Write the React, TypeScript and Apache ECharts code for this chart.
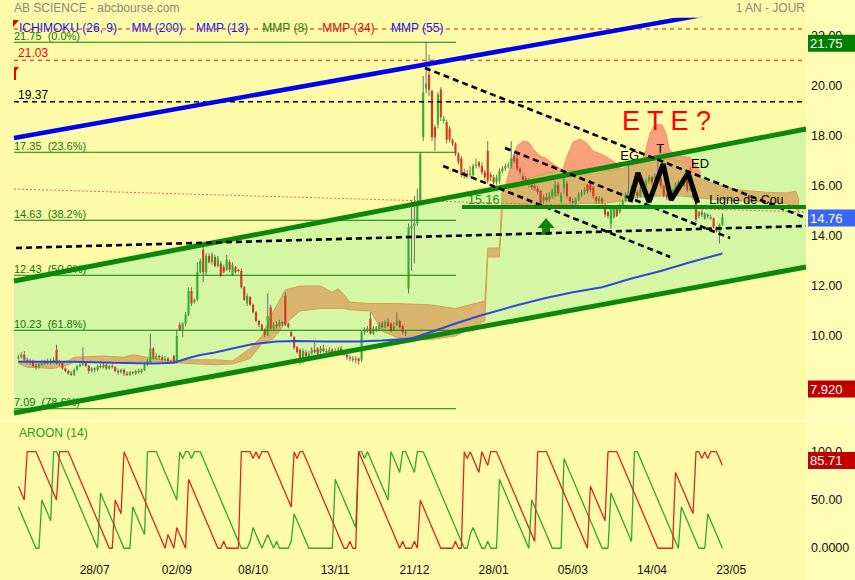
import React, { useEffect, useRef } from "react";
import * as echarts from "echarts";

const FONT = "'Liberation Sans', Arial, Helvetica, sans-serif";
const SLOT_MIN = -0.5;
const SLOT_MAX = 269.5;

// x-axis tick labels and the bar slot they sit on
const TICK_LABELS = ["28/07", "02/09", "08/10", "13/11", "21/12", "28/01", "05/03", "14/04", "23/05"];
const TICK_SLOTS = [27, 55, 81, 109, 136, 163, 190, 217, 244];

// daily bars [open, high, low, close]; bar k sits on slot k+1
const OHLC = [
  [9.10,9.25,9.05,9.15],[9.15,9.35,9.10,9.25],[9.25,9.40,9.00,9.05],[9.05,9.15,8.90,8.95],[8.95,9.10,8.85,9.00],
  [9.00,9.05,8.75,8.80],[8.80,8.90,8.65,8.75],[8.75,8.95,8.70,8.85],[8.85,9.05,8.80,8.95],[8.95,9.05,8.85,8.90],
  [8.90,9.10,8.85,9.00],[9.00,9.10,8.85,8.95],[8.95,9.15,8.90,9.05],[9.45,9.65,8.85,8.90],[8.90,9.05,8.80,8.95],
  [8.95,9.00,8.65,8.70],[8.70,8.75,8.55,8.60],[8.60,8.65,8.45,8.50],[8.50,8.60,8.40,8.45],[8.45,8.70,8.40,8.65],
  [8.65,8.85,8.60,8.80],[8.80,8.95,8.75,8.85],[8.85,9.55,8.80,8.95],[8.95,9.00,8.75,8.80],[8.80,8.85,8.50,8.60],
  [8.60,8.75,8.55,8.70],[8.70,8.75,8.55,8.65],[8.65,8.85,8.60,8.80],[8.80,8.90,8.70,8.75],[8.75,8.95,8.70,8.85],
  [8.85,8.90,8.65,8.70],[8.70,8.85,8.65,8.80],[8.80,8.90,8.70,8.75],[8.75,8.80,8.55,8.60],[8.60,8.70,8.45,8.55],
  [8.55,8.70,8.50,8.65],[8.65,8.70,8.40,8.50],[8.50,8.60,8.40,8.45],[8.45,8.60,8.40,8.55],[8.55,8.60,8.45,8.50],
  [8.50,8.65,8.45,8.60],[8.60,8.70,8.50,8.55],[8.55,8.70,8.50,8.65],[8.65,8.95,8.60,8.85],[8.85,9.10,8.80,9.00],
  [8.95,10.10,8.90,9.50],[9.50,9.55,9.05,9.10],[9.10,9.30,9.05,9.20],[9.20,9.25,9.05,9.15],[9.15,9.25,9.00,9.05],
  [9.05,9.20,9.00,9.10],[9.10,9.15,8.95,9.00],[9.00,9.05,8.90,8.95],[9.20,9.25,8.90,8.95],[8.95,10.25,8.90,10.00],
  [10.45,10.55,10.20,10.25],[10.25,10.55,9.95,10.50],[10.50,10.95,10.40,10.85],[10.85,11.95,10.80,11.80],[11.80,11.95,11.20,11.30],
  [11.35,11.50,11.30,11.45],[11.45,12.95,11.40,12.55],[12.55,13.10,12.50,13.00],[13.45,13.65,12.15,12.55],[12.55,13.30,12.45,13.20],
  [13.20,13.30,12.90,12.95],[12.95,13.35,12.85,13.25],[13.15,13.25,12.75,12.80],[12.80,13.20,12.75,13.10],[12.90,13.00,12.35,12.40],
  [12.75,12.85,12.50,12.55],[12.65,13.25,12.60,13.05],[12.95,13.05,12.55,12.65],[12.45,12.95,12.40,12.85],[12.75,12.80,12.50,12.55],
  [12.65,12.70,12.55,12.60],[12.60,12.70,11.90,11.95],[11.95,12.00,11.40,11.45],[11.30,11.70,11.20,11.60],[11.55,11.60,11.20,11.25],
  [11.25,11.30,10.90,10.95],[10.95,11.00,10.55,10.60],[10.60,10.65,10.35,10.45],[10.45,10.50,10.20,10.25],[10.25,10.30,9.95,10.05],
  [10.05,11.70,10.00,10.80],[11.15,11.25,10.25,10.30],[10.30,10.55,10.25,10.45],[10.45,10.60,10.30,10.40],[10.40,10.65,10.35,10.55],
  [10.55,10.60,10.40,10.50],[11.60,11.75,10.40,10.45],[10.50,10.55,10.30,10.35],[10.15,10.20,9.95,10.00],[9.95,10.00,9.45,9.55],
  [9.55,9.60,9.30,9.35],[9.45,9.50,8.85,8.95],[9.05,9.50,8.90,9.40],[9.35,9.45,9.10,9.20],[9.20,9.40,9.05,9.30],
  [9.30,9.55,9.25,9.45],[9.45,9.75,9.30,9.35],[9.50,9.55,9.25,9.30],[9.35,9.60,9.30,9.50],[9.50,9.65,9.35,9.40],
  [9.40,9.50,9.25,9.35],[9.35,9.55,9.30,9.45],[9.45,9.50,9.30,9.35],[9.35,9.50,9.30,9.40],[9.40,9.55,9.35,9.45],
  [9.50,9.60,9.25,9.30],[9.35,9.45,9.20,9.25],[9.25,9.30,9.05,9.15],[9.15,9.25,9.00,9.10],[9.10,9.20,8.95,9.05],
  [9.05,9.20,8.90,9.10],[9.10,9.15,8.85,9.00],[9.05,10.20,8.95,10.15],[10.15,10.35,10.05,10.25],[10.25,10.40,10.15,10.30],
  [10.70,10.95,10.05,10.10],[10.10,10.40,10.05,10.30],[10.30,10.40,10.15,10.25],[10.25,10.55,10.20,10.45],[10.50,10.60,10.30,10.35],
  [10.35,10.65,10.30,10.55],[10.55,10.70,10.35,10.40],[10.50,10.55,10.15,10.20],[10.25,10.55,10.20,10.40],[10.45,10.95,10.40,10.60],
  [10.60,10.65,10.30,10.35],[10.40,10.45,10.05,10.15],[10.15,10.20,10.00,10.10],[11.90,14.50,11.70,14.35],[14.30,15.45,12.60,14.40],
  [14.40,15.60,12.90,14.50],[14.50,15.90,14.40,15.20],[15.35,17.35,15.20,17.30],[17.95,20.40,17.80,19.75],[19.90,21.75,19.70,20.10],
  [20.45,21.25,19.60,19.85],[19.80,19.85,17.80,17.95],[18.35,18.45,17.40,17.95],[18.45,19.75,18.30,19.65],[19.85,19.95,18.60,18.75],
  [18.60,18.80,18.50,18.70],[18.55,18.65,17.70,17.85],[18.30,18.40,17.75,17.85],[17.85,17.90,17.60,17.70],[17.70,17.75,17.20,17.30],
  [17.30,17.35,16.85,16.95],[17.10,17.20,16.35,16.45],[16.55,16.70,16.30,16.45],[16.50,16.65,16.30,16.45],[16.45,16.80,16.35,16.50],
  [16.45,16.90,16.40,16.80],[16.80,17.10,16.70,16.85],[16.95,17.00,16.70,16.80],[16.80,16.95,16.45,16.55],[16.55,16.65,16.25,16.35],
  [17.40,17.80,16.10,16.20],[16.45,16.55,16.20,16.35],[16.35,16.45,16.05,16.15],[16.15,16.45,16.05,16.35],[16.20,16.70,16.10,16.60],
  [16.60,16.80,16.50,16.70],[16.70,16.90,16.60,16.80],[16.80,16.95,16.70,16.85],[16.80,17.80,16.70,17.10],[17.20,17.30,16.90,17.00],
  [17.10,17.30,16.60,16.70],[16.70,16.75,16.45,16.55],[16.40,16.50,16.15,16.25],[16.30,16.40,16.05,16.15],[16.15,16.30,15.95,16.05],
  [16.05,16.15,15.85,15.95],[16.00,16.10,15.80,15.90],[15.90,16.00,15.65,15.75],[15.80,15.85,15.15,15.25],[15.40,15.65,15.30,15.55],
  [15.55,15.70,15.35,15.45],[15.45,15.75,15.35,15.60],[15.60,15.90,15.50,15.80],[15.60,16.20,15.55,16.05],[16.05,16.15,15.60,15.70],
  [15.40,15.75,15.30,15.65],[15.90,16.40,15.70,16.30],[16.10,16.20,15.50,15.60],[15.55,15.60,15.30,15.40],[15.40,15.50,15.25,15.35],
  [15.30,15.55,15.20,15.45],[15.45,15.75,15.40,15.65],[15.65,15.85,15.55,15.75],[15.75,15.95,15.65,15.85],[16.05,16.10,15.70,15.80],
  [16.10,16.25,15.75,15.85],[15.95,16.00,15.50,15.60],[15.55,15.60,15.30,15.40],[15.40,15.60,15.30,15.50],[15.50,15.55,15.25,15.35],
  [15.25,15.30,14.75,14.85],[14.95,15.00,14.70,14.80],[14.50,15.15,14.30,15.10],[14.75,15.20,14.70,15.15],[15.15,15.20,14.75,14.80],
  [14.95,15.30,14.90,15.20],[15.20,15.45,15.15,15.40],[15.40,15.75,15.35,15.65],[15.65,16.90,15.55,15.80],[15.80,16.05,15.70,15.95],
  [15.95,16.05,15.65,15.75],[15.75,15.85,15.50,15.60],[15.60,15.95,15.55,15.85],[15.85,16.15,15.80,16.05],[16.05,16.30,15.95,16.20],
  [16.20,16.45,16.10,16.35],[16.35,16.40,16.05,16.15],[16.15,16.50,16.10,16.40],[16.40,17.10,16.20,16.30],[16.30,16.35,15.90,16.00],
  [16.00,16.05,15.55,15.65],[15.65,15.70,15.45,15.55],[15.55,15.80,15.50,15.70],[15.70,15.90,15.60,15.85],[15.85,16.15,15.80,16.05],
  [16.05,16.25,15.95,16.15],[16.15,16.25,15.90,16.00],[16.00,16.30,15.95,16.20],[16.30,16.40,15.75,15.85],[15.85,16.75,15.80,15.90],
  [15.85,15.90,15.45,15.55],[15.35,15.40,14.55,14.65],[14.80,15.00,14.70,14.95],[14.95,15.05,14.75,14.85],[14.70,14.95,14.65,14.90],
  [14.85,14.90,14.70,14.80],[14.70,14.85,14.65,14.75],[14.70,14.75,14.30,14.35],[14.35,14.40,14.15,14.20],[14.15,14.50,13.70,14.45],
  [14.45,14.90,14.40,14.76],
];

// MM (200) read at [slot, value]
const MM200 = [
  [1,8.97],[20,8.97],[33,8.93],[47,8.9],[54,8.93],[59,9.12],[63,9.24],[68,9.34],[74,9.5],[81,9.68],[89,9.78],
  [96,9.8],[105,9.78],[117,9.78],[125,9.82],[135,9.9],[142,10.17],[150,10.5],[158,10.8],[170,11.2],[180,11.5],
  [190,11.75],[200,11.95],[210,12.3],[220,12.6],[230,12.95],[241,13.3],
];

// Ichimoku cloud (tan band) read at slots
const CLOUD_SLOTS = [1,4,13,18,20,30,37,40,45,53,59,68,74,80,84,88,92,97,104,108,110,112,114,121,125,130,141,150,160,161,165,166,171,176,182,186,193,200,207,212,220,227,231,235,240,246,256,263,266,267];
const CLOUD_TOP = [9.0,9.0,8.95,9.0,9.15,9.2,9.15,9.25,9.15,9.0,9.05,9.05,9.0,9.5,10.0,11.0,11.85,12.0,12.0,11.75,11.9,11.65,11.35,11.3,11.3,11.3,11.25,11.1,11.4,13.52,13.52,15.95,16.2,16.35,16.55,16.6,16.65,16.6,16.7,16.95,17.1,17.0,16.6,16.2,16.05,15.85,15.75,15.72,15.8,15.5];
const CLOUD_BOTTOM = [8.9,8.75,8.7,8.85,8.95,8.97,8.97,8.97,8.97,8.95,8.9,8.85,8.88,9.1,9.7,9.9,10.5,11.0,11.1,11.1,11.1,11.1,11.05,11.0,10.2,9.95,9.85,10.0,10.6,13.16,13.16,15.16,15.16,15.2,15.2,15.25,15.3,15.3,15.4,15.55,15.6,15.6,15.55,15.5,15.45,15.4,15.35,15.3,15.1,14.95];
// salmon (bearish) humps of the cloud: [slot, upper value]
const SALMON_1 = [[167,16.0],[169,16.9],[171,17.6],[173,17.8],[175,17.75],[177,17.4],[179,17.2],[181,17.1],[183,16.9],[185,16.75],[187,16.6]];
const SALMON_2 = [[185.7,16.3],[188.1,17.2],[190.1,17.75],[192.5,17.88],[194.9,17.7],[196.9,17.4],[199.3,17.3],[201.7,17.15],[203.7,17.0],[206.1,16.8]];
const SALMON_3 = [[212.9,16.9],[214.6,17.3],[216.3,18.1],[218,18.45],[220.4,18.45],[221.8,18.1],[222.8,17.5],[224.9,17.2],[230,17.15],[233.4,16.6]];
const SALMON_BASE = 15.7;

// Aroon (14)
const AROON_DOWN = [
  64.29,57.14,50,100,100,100,100,92.86,85.71,78.57,
  71.43,64.29,57.14,50,100,100,100,100,92.86,85.71,
  78.57,71.43,64.29,57.14,50,42.86,35.71,28.57,21.43,14.29,
  7.14,0,0,50,42.86,35.71,100,92.86,85.71,78.57,
  71.43,64.29,57.14,50,42.86,35.71,28.57,21.43,14.29,7.14,
  0,14.29,7.14,0,21.43,14.29,7.14,0,71.43,64.29,
  57.14,50,42.86,35.71,28.57,21.43,14.29,7.14,0,0,
  7.14,0,0,0,0,0,100,100,100,100,
  92.86,100,92.86,100,100,100,92.86,85.71,78.57,71.43,
  64.29,57.14,50,42.86,100,92.86,100,100,92.86,85.71,
  78.57,71.43,64.29,57.14,50,42.86,35.71,28.57,21.43,14.29,
  7.14,0,0,7.14,0,0,100,92.86,85.71,78.57,
  71.43,64.29,57.14,50,42.86,35.71,28.57,21.43,14.29,7.14,
  0,7.14,0,0,0,7.14,0,50,42.86,35.71,
  28.57,21.43,14.29,7.14,0,0,0,0,0,7.14,
  0,0,100,92.86,100,92.86,85.71,78.57,100,92.86,
  85.71,100,100,100,92.86,85.71,78.57,71.43,64.29,57.14,
  50,42.86,35.71,28.57,21.43,14.29,7.14,100,100,100,
  100,92.86,85.71,78.57,71.43,64.29,57.14,50,42.86,35.71,
  28.57,21.43,14.29,7.14,0,64.29,57.14,50,42.86,35.71,
  28.57,100,100,100,100,92.86,85.71,78.57,71.43,64.29,
  57.14,50,42.86,35.71,28.57,21.43,14.29,7.14,0,0,
  0,0,0,0,78.57,71.43,64.29,57.14,50,42.86,
  35.71,100,100,92.86,100,92.86,100,100,100,92.86,
  85.71,
];
const AROON_UP = [
  42.86,35.71,28.57,21.43,14.29,7.14,0,0,50,42.86,
  35.71,28.57,100,100,92.86,85.71,78.57,71.43,64.29,57.14,
  50,42.86,35.71,28.57,21.43,14.29,7.14,0,57.14,50,
  42.86,35.71,28.57,21.43,14.29,7.14,0,0,0,42.86,
  35.71,28.57,21.43,14.29,100,100,100,100,92.86,85.71,
  78.57,71.43,64.29,57.14,50,100,92.86,100,100,92.86,
  100,100,100,92.86,85.71,78.57,71.43,64.29,57.14,50,
  42.86,35.71,28.57,21.43,14.29,7.14,0,0,0,7.14,
  21.43,14.29,7.14,0,7.14,14.29,7.14,0,7.14,0,
  0,0,0,7.14,35.71,28.57,21.43,14.29,7.14,0,
  0,0,0,0,0,0,0,0,71.43,64.29,
  57.14,50,42.86,35.71,28.57,21.43,100,100,92.86,100,
  92.86,85.71,78.57,71.43,64.29,57.14,50,100,92.86,85.71,
  78.57,100,100,92.86,85.71,78.57,100,100,100,92.86,
  85.71,78.57,71.43,64.29,57.14,50,42.86,35.71,28.57,21.43,
  14.29,7.14,0,0,14.29,21.43,14.29,7.14,0,0,
  7.14,0,0,0,71.43,64.29,57.14,50,42.86,35.71,
  28.57,21.43,14.29,7.14,0,50,42.86,35.71,28.57,21.43,
  14.29,7.14,0,0,0,0,92.86,85.71,78.57,71.43,
  64.29,57.14,50,42.86,35.71,28.57,21.43,14.29,7.14,0,
  0,0,57.14,50,42.86,35.71,28.57,21.43,14.29,7.14,
  100,100,92.86,85.71,78.57,71.43,64.29,57.14,50,42.86,
  35.71,28.57,21.43,14.29,7.14,0,42.86,35.71,28.57,21.43,
  14.29,7.14,0,0,0,35.71,28.57,21.43,14.29,7.14,
  0,
];
const AROON_TICKS = [0, 50, 100];
const AROON_TICK_LABELS = ["0.0000", "50.00", "100.0"];
const AROON_TAGS = [{ value: 85.71, text: "85.71", color: "#C00000" }];

// Fibonacci retracement
const FIB_LEVELS = [21.75, 17.35, 14.63, 12.43, 10.23, 7.09];
const FIB_PCT = ["0.0%", "23.6%", "38.2%", "50.0%", "61.8%", "78.6%"];
const FIB_END = 150.2;

// price axis ticks and tags
const PRICE_TICKS = [8, 10, 12, 14, 16, 18, 20, 22];
const PRICE_TAGS = [
  { value: 21.75, text: "21.75", color: "#008000" },
  { value: 14.76, text: "14.76", color: "#3A66F5" },
  { value: 7.92, text: "7.920", color: "#C00000" },
];

// drawn trend lines, in [slot, price]
const BLUE_TREND = [[-0.5, 17.92], [269.5, 23.58]];
const CHANNEL_UP = [[-0.5, 12.2], [269.5, 18.28]];
const CHANNEL_LOW = [[-0.5, 6.92], [269.5, 12.76]];
const DASHED_TRENDS = [
  [[0.2, 13.52], [269.5, 14.40]],
  [[139.6, 20.72], [269.5, 14.72]],
  [[166.9, 17.52], [243.6, 13.92]],
  [[145.8, 16.8], [223.2, 13.16]],
];
const LEVEL_TOP = 22.28;
const LEVEL_2103 = 21.03;
const LEVEL_1937 = 19.37;
const RED_DOTTED = [[-0.5, 15.88], [269.5, 14.96]];
const NECKLINE = [[152.2, 15.16], [269.5, 15.16]];
const HS_PATTERN = [[209.5, 15.36], [212.2, 16.52], [216, 15.36], [220.8, 16.88], [223.5, 15.44], [229.3, 16.52], [232.6, 15.32]];
const ARROW_TIP = [180.9, 14.72];

const ANNOTATIONS = [
  { x: 0.9, y: 21.03, text: "21.03", color: "#FF0000", size: 12, align: "left", va: "bottom" },
  { x: 0.9, y: 19.37, text: "19.37", color: "#000000", size: 12, align: "left", va: "bottom" },
  { x: 154.3, y: 15.16, text: "15.16", color: "#1E8C1E", size: 12.5, align: "left", va: "bottom" },
  { x: 236.5, y: 15.16, text: "Ligne de Cou", color: "#000000", size: 12.5, align: "left", va: "bottom" },
  { x: 209.4, y: 17.24, text: "EG", color: "#000000", size: 13, align: "center", va: "middle" },
  { x: 219.8, y: 17.52, text: "T", color: "#000000", size: 13, align: "center", va: "middle" },
  { x: 233.4, y: 16.92, text: "ED", color: "#000000", size: 13, align: "center", va: "middle" },
  { x: 206.8, y: 18.6, text: "E T E ?", color: "#FF0000", size: 27, align: "left", va: "middle" },
];

const LEGEND = [
  { text: "ICHIMOKU (26, 9)", x: 19, color: "#1515F0" },
  { text: "MM (200)", x: 131.5, color: "#1515F0" },
  { text: "MMP (13)", x: 196, color: "#1515F0" },
  { text: "MMP (8)", x: 262.3, color: "#118811" },
  { text: "MMP (34)", x: 322.3, color: "#CC1111" },
  { text: "MMP (55)", x: 391, color: "#1515F0" },
];

const UP_COLOR = "#2DB22D";
const DOWN_COLOR = "#D6381F";

function lineSeries(data: number[][], color: string, width: number, type: any = "solid", grid = 0) {
  return {
    type: "line",
    xAxisIndex: grid,
    yAxisIndex: grid,
    data,
    symbol: "none",
    showSymbol: false,
    silent: true,
    clip: true,
    animation: false,
    lineStyle: { color, width, type, cap: "butt" },
  };
}

function textEl(a: any, p: number[]) {
  return {
    type: "text",
    x: p[0],
    y: a.va === "bottom" ? p[1] - 1 : p[1],
    style: {
      text: a.text,
      fill: a.color,
      fontSize: a.size,
      fontFamily: FONT,
      align: a.align,
      textAlign: a.align,
      verticalAlign: a.va,
      textVerticalAlign: a.va,
    },
  };
}

function tagSeries(tags: any[], grid: number, dy: number) {
  return {
    type: "custom", xAxisIndex: grid, yAxisIndex: grid, silent: true, animation: false, clip: false, z: 10,
    data: tags.map((t) => [SLOT_MAX, t.value]),
    renderItem: (p: any, api: any) => {
      const t = tags[p.dataIndex];
      const q = api.coord([SLOT_MAX, t.value]);
      const cy = q[1] + dy;
      return {
        type: "group",
        children: [
          { type: "rect", shape: { x: q[0] + 2, y: cy - 8.5, width: 50, height: 17 }, style: { fill: t.color } },
          {
            type: "text", x: q[0] + 4, y: cy + 0.5,
            style: { text: t.text, fill: "#FFFFFF", fontSize: 13, fontFamily: FONT, align: "left", textAlign: "left", verticalAlign: "middle", textVerticalAlign: "middle" },
          },
        ],
      };
    },
  };
}

function buildOption() {
  const fibAnn = FIB_LEVELS.map((v, i) => ({
    x: SLOT_MIN, y: v, text: `${v.toFixed(2)}  (${FIB_PCT[i]})`, color: "#0A780A", size: 11, align: "left", va: "bottom",
  }));

  const series: any[] = [];

  // green channel fill
  series.push({
    type: "custom", xAxisIndex: 0, yAxisIndex: 0, silent: true, animation: false,
    data: [[0, 10]],
    renderItem: (_p: any, api: any) => {
      const pts = CHANNEL_UP.map((q) => api.coord(q)).concat(CHANNEL_LOW.slice().reverse().map((q) => api.coord(q)));
      return { type: "polygon", shape: { points: pts }, style: { fill: "#D5F7A3" } };
    },
  });

  // salmon humps (under the tan cloud)
  series.push({
    type: "custom", xAxisIndex: 0, yAxisIndex: 0, silent: true, animation: false,
    data: [[0, 10]],
    renderItem: (_p: any, api: any) => ({
      type: "group",
      children: [SALMON_1, SALMON_2, SALMON_3].map((hump) => {
        const top = hump.map((q) => api.coord(q));
        const base = hump.slice().reverse().map((q) => api.coord([q[0], SALMON_BASE]));
        return { type: "polygon", shape: { points: top.concat(base) }, style: { fill: "#F8A07C", stroke: "#F09070", lineWidth: 1 } };
      }),
    }),
  });

  // tan cloud
  series.push({
    type: "custom", xAxisIndex: 0, yAxisIndex: 0, silent: true, animation: false,
    data: [[0, 10]],
    renderItem: (_p: any, api: any) => {
      const up = CLOUD_SLOTS.map((s, i) => api.coord([s, CLOUD_TOP[i]]));
      const dn = CLOUD_SLOTS.map((s, i) => api.coord([s, CLOUD_BOTTOM[i]])).reverse();
      return { type: "polygon", shape: { points: up.concat(dn) }, style: { fill: "#D8B46C", stroke: "#CFA358", lineWidth: 1 } };
    },
  });

  // fibonacci lines
  FIB_LEVELS.forEach((v) => series.push(lineSeries([[SLOT_MIN, v], [FIB_END, v]], "#0A800A", 1)));
  // fibonacci labels
  series.push({
    type: "custom", xAxisIndex: 0, yAxisIndex: 0, silent: true, animation: false,
    data: fibAnn.map((a) => [a.x, a.y]),
    renderItem: (p: any, api: any) => textEl(fibAnn[p.dataIndex], api.coord([fibAnn[p.dataIndex].x, fibAnn[p.dataIndex].y])),
  });

  // thin horizontal levels
  series.push(lineSeries([[SLOT_MIN, LEVEL_TOP], [268.5, LEVEL_TOP]], "#E01010", 1, [4, 4]));
  series.push(lineSeries([[SLOT_MIN, LEVEL_2103], [268.5, LEVEL_2103]], "#E01010", 1, [4, 4]));
  series.push(lineSeries([[SLOT_MIN, LEVEL_1937], [268.5, LEVEL_1937]], "#000000", 1.3, [5, 4]));
  series.push(lineSeries(RED_DOTTED, "#FF5A5A", 1, [2, 2]));

  // channel & blue trend
  series.push(lineSeries(CHANNEL_UP, "#0B880B", 5));
  series.push(lineSeries(CHANNEL_LOW, "#0B880B", 5));
  series.push(lineSeries(BLUE_TREND, "#0000EE", 4.5));

  // MM200
  series.push(lineSeries(MM200, "#2C48E0", 2));

  // candles
  series.push({
    type: "custom", xAxisIndex: 0, yAxisIndex: 0, silent: true, animation: false,
    dimensions: ["x", "open", "high", "low", "close"],
    encode: { x: 0, y: [1, 2, 3, 4] },
    data: OHLC.map((b, i) => [i + 1, b[0], b[1], b[2], b[3]]),
    renderItem: (_p: any, api: any) => {
      const x = api.value(0), o = api.value(1), h = api.value(2), l = api.value(3), c = api.value(4);
      const pH = api.coord([x, h]), pL = api.coord([x, l]), pO = api.coord([x, o]), pC = api.coord([x, c]);
      const bw = Math.max(1.6, api.size([1, 0])[0] * 0.72);
      const top = Math.min(pO[1], pC[1]);
      const hh = Math.max(1, Math.abs(pO[1] - pC[1]));
      return {
        type: "group",
        children: [
          { type: "line", shape: { x1: pH[0], y1: pH[1], x2: pL[0], y2: pL[1] }, style: { stroke: "#6E6E6E", lineWidth: 1 } },
          { type: "rect", shape: { x: pO[0] - bw / 2, y: top, width: bw, height: hh }, style: { fill: c >= o ? UP_COLOR : DOWN_COLOR } },
        ],
      };
    },
  });

  // dashed trend lines
  DASHED_TRENDS.forEach((l) => series.push(lineSeries(l, "#000000", 2.6, [6, 4])));
  // neckline & pattern
  series.push(lineSeries(NECKLINE, "#0B880B", 4));
  series.push(lineSeries(HS_PATTERN, "#000000", 5));

  // arrow + annotations
  series.push({
    type: "custom", xAxisIndex: 0, yAxisIndex: 0, silent: true, animation: false,
    data: [ARROW_TIP],
    renderItem: (_p: any, api: any) => {
      const t = api.coord(ARROW_TIP);
      const rel = [[0, 0], [8.5, 10], [4, 10], [4, 17], [-4, 17], [-4, 10], [-8.5, 10]];
      return { type: "polygon", shape: { points: rel.map((r) => [t[0] + r[0], t[1] + r[1]]) }, style: { fill: "#0E860E" } };
    },
  });
  series.push({
    type: "custom", xAxisIndex: 0, yAxisIndex: 0, silent: true, animation: false,
    data: ANNOTATIONS.map((a) => [a.x, a.y]),
    renderItem: (p: any, api: any) => textEl(ANNOTATIONS[p.dataIndex], api.coord([ANNOTATIONS[p.dataIndex].x, ANNOTATIONS[p.dataIndex].y])),
  });

  // aroon
  series.push(lineSeries(AROON_UP.map((v, i) => [i + 1, v]), "#2EA82E", 1.3, "solid", 1));
  series.push(lineSeries(AROON_DOWN.map((v, i) => [i + 1, v]), "#D42A1E", 1.3, "solid", 1));

  // price tags on the right
  series.push(tagSeries(PRICE_TAGS, 0, 1));
  series.push(tagSeries(AROON_TAGS, 1, -5));

  const graphics: any[] = [
    { type: "rect", z: -10, silent: true, shape: { x: 806, y: 0, width: 49, height: 580 }, style: { fill: "#FFFDB6" } },
    { type: "rect", z: -10, silent: true, shape: { x: 0, y: 420, width: 855, height: 2 }, style: { fill: "#FFFFD2" } },
    { type: "text", x: 14, y: 8, style: { text: "AB SCIENCE - abcbourse.com", fill: "#888888", fontSize: 12, fontFamily: FONT, verticalAlign: "middle", textVerticalAlign: "middle" } },
    { type: "text", x: 805, y: 8, style: { text: "1 AN - JOUR", fill: "#888888", fontSize: 12, fontFamily: FONT, align: "right", textAlign: "right", verticalAlign: "middle", textVerticalAlign: "middle" } },
    { type: "polygon", shape: { points: [[13, 20], [19, 20], [13, 27]] }, style: { fill: "#EE0000" } },
    { type: "polygon", shape: { points: [[14, 67], [19, 67], [16, 71], [16, 80], [14, 80]] }, style: { fill: "#EE0000" } },
    { type: "text", x: 19, y: 433, style: { text: "AROON (14)", fill: "#22A022", fontSize: 12, fontFamily: FONT, verticalAlign: "middle", textVerticalAlign: "middle" } },
  ];
  LEGEND.forEach((l) =>
    graphics.push({ type: "text", x: l.x, y: 27.5, style: { text: l.text, fill: l.color, fontSize: 12, fontFamily: FONT, verticalAlign: "middle", textVerticalAlign: "middle" } })
  );

  return {
    animation: false,
    backgroundColor: "#FEFBA8",
    textStyle: { fontFamily: FONT },
    grid: [
      { left: 14, top: 20, width: 792, height: 400 },
      { left: 14, top: 440, width: 792, height: 116 },
    ],
    xAxis: [
      { type: "value", gridIndex: 0, min: SLOT_MIN, max: SLOT_MAX, show: false },
      {
        type: "value", gridIndex: 1, min: SLOT_MIN, max: SLOT_MAX,
        axisLine: { show: false }, axisTick: { show: false }, splitLine: { show: false },
        axisLabel: {
          customValues: TICK_SLOTS,
          formatter: (v: number) => { const k = TICK_SLOTS.indexOf(v); return k >= 0 ? TICK_LABELS[k] : ""; },
          color: "#111111", fontSize: 12, margin: 8, fontFamily: FONT,
        },
      },
    ],
    yAxis: [
      {
        type: "value", gridIndex: 0, position: "right", min: 6.64, max: 22.64,
        axisLine: { show: false }, axisTick: { show: false }, splitLine: { show: false },
        axisLabel: {
          customValues: PRICE_TICKS, formatter: (v: number) => v.toFixed(2),
          color: "#111111", fontSize: 12.5, margin: 5, padding: [0, 0, 5, 0], fontFamily: FONT,
        },
      },
      {
        type: "value", gridIndex: 1, position: "right", min: -8, max: 112.1,
        axisLine: { show: false }, axisTick: { show: false }, splitLine: { show: false },
        axisLabel: {
          customValues: AROON_TICKS,
          formatter: (v: number) => { const k = AROON_TICKS.indexOf(v); return k >= 0 ? AROON_TICK_LABELS[k] : ""; },
          color: "#111111", fontSize: 12.5, margin: 5, padding: [0, 0, 6, 0], fontFamily: FONT,
        },
      },
    ],
    graphic: graphics,
    series,
  };
}

export default function App() {
  const ref = useRef<HTMLDivElement>(null);
  useEffect(() => {
    const chart = echarts.init(ref.current as HTMLDivElement, null, { renderer: "svg" });
    chart.setOption(buildOption() as any);
    return () => chart.dispose();
  }, []);
  return <div ref={ref} style={{ position: "fixed", left: 0, top: 0, width: 855, height: 580 }} />;
}
